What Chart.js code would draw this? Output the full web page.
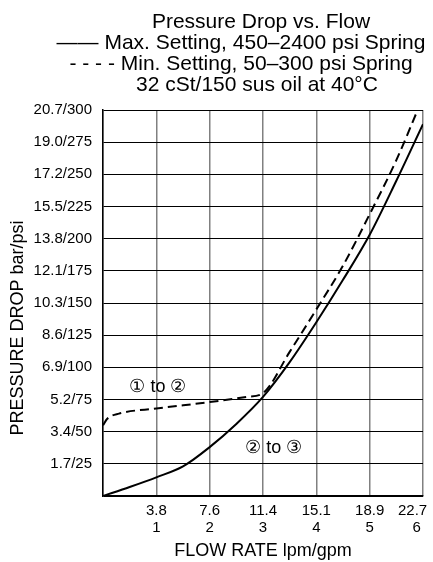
<!DOCTYPE html>
<html>
<head>
<meta charset="utf-8">
<script src="https://cdn.jsdelivr.net/npm/chart.js@4.4.0/dist/chart.umd.min.js"></script>
<style>
    html, body { margin: 0; padding: 0; background: #fff; }
    #wrap { width: 433px; height: 562px; position: relative; }
</style>
</head>
<body>
<div id="wrap"><canvas id="myChart"></canvas></div>
<script>
// x axis: gpm with lpm equivalents
var flowGpm = [0, 1, 2, 3, 4, 5, 6];
var flowLpm = ['', '3.8', '7.6', '11.4', '15.1', '18.9', '22.7'];
// y axis: psi with bar equivalents
var psiTicks = [0, 25, 50, 75, 100, 125, 150, 175, 200, 225, 250, 275, 300];
var barTicks = ['', '1.7', '3.4', '5.2', '6.9', '8.6', '10.3', '12.1', '13.8', '15.5', '17.2', '19.0', '20.7'];

// Max. setting, 450-2400 psi spring (solid)
var maxFlow = [0, 0.5, 1, 1.5, 2, 2.5, 3, 3.5, 4, 4.5, 5, 5.5, 6];
var maxPsi = [0, 7, 14.5, 23, 38, 56, 77, 104, 135, 168, 203, 245, 289];

// Min. setting, 50-300 psi spring (dashed)
var minFlow = [0, 0.08, 0.3, 1, 2, 2.7, 3, 3.5, 4, 4.5, 5, 5.5, 5.9];
var minPsi = [55, 60, 64, 68, 73, 77, 80, 112, 145, 179, 219, 261, 300];

var titleLines = [
    'Pressure Drop vs. Flow',
    '\u2014\u2014 Max. Setting, 450\u20132400 psi Spring',
    '- - - - Min. Setting, 50\u2013300 psi Spring',
    '32 cSt/150 sus oil at 40\u00B0C'
];
var notes = [
    { text: '\u2460 to \u2461', x: 1.03, y: 85 },
    { text: '\u2461 to \u2462', x: 3.2, y: 37 }
];

function toPoints(xs, ys) {
    return xs.map(function (x, i) { return { x: x, y: ys[i] }; });
}

var FONT = 'Liberation Sans, Arial, sans-serif';
Chart.defaults.font.family = FONT;
Chart.defaults.color = '#000';

var textPlugin = {
    id: 'textPlugin',
    afterDraw: function (chart) {
        var ctx = chart.ctx;
        ctx.save();
        ctx.fillStyle = '#000';
        ctx.textBaseline = 'alphabetic';
        ctx.textAlign = 'center';
        ctx.font = '21px ' + FONT;
        var cx = [261, 241, 241, 257];
        var by = [28, 49, 70, 91];
        titleLines.forEach(function (t, i) {
            ctx.fillText(t, cx[i], by[i]);
        });

        // y axis title
        ctx.save();
        ctx.translate(23, 328);
        ctx.rotate(-Math.PI / 2);
        ctx.font = '18px ' + FONT;
        ctx.fillText('PRESSURE DROP bar/psi', 0, 0);
        ctx.restore();

        // region notes
        ctx.font = '18px ' + FONT;
        ctx.textBaseline = 'middle';
        notes.forEach(function (n) {
            ctx.fillText(n.text, chart.scales.x.getPixelForValue(n.x), chart.scales.y.getPixelForValue(n.y));
        });
        ctx.restore();
    }
};

var ctx = document.getElementById('myChart');
var flowChart = new Chart(ctx, {
    type: 'line',
    plugins: [textPlugin],
    data: {
        datasets: [{
            label: 'Max. Setting',
            data: toPoints(maxFlow, maxPsi),
            borderColor: '#000',
            borderWidth: 2,
            pointRadius: 0,
            cubicInterpolationMode: 'monotone',
            fill: false
        }, {
            label: 'Min. Setting',
            data: toPoints(minFlow, minPsi),
            borderColor: '#000',
            borderWidth: 2,
            borderDash: [9, 5],
            pointRadius: 0,
            cubicInterpolationMode: 'monotone',
            fill: false
        }]
    },
    options: {
        responsive: true,
        maintainAspectRatio: false,
        animation: false,
        layout: {
            padding: { top: 110, right: 10, left: 0, bottom: 0 }
        },
        plugins: {
            legend: { display: false },
            tooltip: { enabled: false },
            title: { display: false }
        },
        scales: {
            x: {
                type: 'linear',
                min: 0,
                max: 6,
                afterFit: function (scale) {
                    scale.height = 66;
                    scale.paddingLeft = 0;
                    scale.paddingRight = 0;
                },
                afterBuildTicks: function (scale) {
                    scale.ticks = flowGpm.map(function (v) { return { value: v }; });
                },
                ticks: {
                    padding: 7,
                    color: '#000',
                    maxRotation: 0,
                    autoSkip: false,
                    font: { size: 15, lineHeight: 1.1 },
                    callback: function (value) {
                        var i = flowGpm.indexOf(value);
                        if (i <= 0) return '';
                        if (i === flowGpm.length - 1) {
                            // last label sits left of the edge line, as in the source
                            return [flowLpm[i] + '     ', value + '   '];
                        }
                        return [flowLpm[i], String(value)];
                    }
                },
                grid: {
                    color: '#808080',
                    lineWidth: 1.5,
                    drawTicks: false
                },
                border: { color: '#000', width: 1.5 },
                title: {
                    display: true,
                    text: 'FLOW RATE lpm/gpm',
                    color: '#000',
                    padding: 0,
                    font: { size: 18 }
                }
            },
            y: {
                min: 0,
                max: 300,
                afterFit: function (scale) { scale.width = 103; },
                afterBuildTicks: function (scale) {
                    scale.ticks = psiTicks.map(function (v) { return { value: v }; });
                },
                ticks: {
                    padding: 11,
                    color: '#000',
                    autoSkip: false,
                    font: { size: 15 },
                    callback: function (value) {
                        var i = psiTicks.indexOf(value);
                        if (i <= 0) return '';
                        return barTicks[i] + '/' + value;
                    }
                },
                grid: {
                    color: '#000',
                    lineWidth: 1,
                    drawTicks: false
                },
                border: { color: '#000', width: 1.5 }
            }
        }
    }
});
</script>
</body>
</html>
